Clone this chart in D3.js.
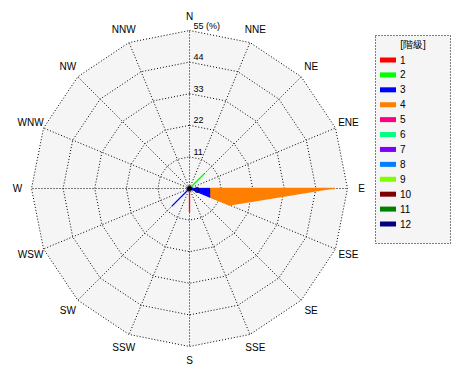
<!DOCTYPE html>
<html>
<head>
<meta charset="utf-8">
<script src="https://cdn.jsdelivr.net/npm/d3@7"></script>
<style>
  body { margin: 0; background: #fff; }
  text { font-family: "Liberation Sans", "DejaVu Sans", sans-serif; }
</style>
</head>
<body>
<svg width="470" height="380"></svg>
<script>
const directions = ["N", "NNE", "NE", "ENE", "E", "ESE", "SE", "SSE",
  "S", "SSW", "SW", "WSW", "W", "WNW", "NW", "NNW"];
const classes = ["1", "2", "3", "4", "5", "6", "7", "8", "9", "10", "11", "12"];
const colors = ["#ff0000", "#00ff00", "#0000ff", "#ff8000", "#ff0080", "#00ff80",
  "#8000ff", "#0080ff", "#80ff00", "#800000", "#008000", "#000080"];
const ticks = [11, 22, 33, 44, 55];

// frequency (%) per class, per direction (N .. NNW)
const class1 = [0, 0, 0, 0, 0, 0, 0, 0, 8.3, 0, 0, 0, 0, 0, 0, 0];
const class2 = [0, 0, 7.3, 0, 0, 0, 0, 0, 0, 0, 0, 0, 0, 0, 0, 0];
const class3 = [0, 0, 0, 0, 7.2, 7.8, 0, 0, 0, 0, 8.8, 0, 0, 0, 0, 0];
const class4 = [0, 0, 0, 0, 43.3, 7.6, 0, 0, 0, 0, 0, 0, 0, 0, 0, 0];
const zeros = directions.map(() => 0);
const series = [class1, class2, class3, class4, zeros, zeros, zeros, zeros,
  zeros, zeros, zeros, zeros];

const cx = 189.5, cy = 188.5, R = 158;
const svg = d3.select("svg");
const g = svg.append("g").attr("transform", `translate(${cx},${cy})`);

const r = d3.scaleLinear().domain([0, 55]).range([0, R]);
const angle = d3.scaleLinear().domain([0, directions.length]).range([0, 2 * Math.PI]);

const ring = v => d3.lineRadial()
  .angle((d, i) => angle(i))
  .radius(() => r(v))
  .curve(d3.curveLinearClosed)(directions);

// background
g.append("path").attr("d", ring(55)).attr("fill", "#f5f5f5");

// rings
ticks.forEach(v => {
  g.append("path").attr("d", ring(v))
    .attr("fill", "none").attr("stroke", "#000")
    .attr("stroke-width", 1).attr("stroke-dasharray", "1,2");
});

// spokes
directions.forEach((d, i) => {
  const a = angle(i);
  g.append("line")
    .attr("x1", 0).attr("y1", 0)
    .attr("x2", Math.sin(a) * r(55)).attr("y2", -Math.cos(a) * r(55))
    .attr("stroke", "#000").attr("stroke-dasharray", "1,2");
});

// stacked radar areas
const cum = [];
series.forEach((s, k) => {
  cum.push(s.map((v, i) => v + (k ? cum[k - 1][i] : 0)));
});
const area = d3.lineRadial()
  .angle((d, i) => angle(i))
  .radius(d => r(d))
  .curve(d3.curveLinearClosed);

for (let k = series.length - 1; k >= 0; k--) {
  if (d3.max(series[k]) === 0) continue;
  g.append("path").attr("d", area(cum[k])).attr("fill", colors[k]);
}
// radial segment of each class along its direction
series.forEach((s, k) => {
  s.forEach((v, i) => {
    if (!v) return;
    const a = angle(i);
    const r0 = k ? r(cum[k - 1][i]) : 0, r1 = r(cum[k][i]);
    g.append("line")
      .attr("x1", Math.sin(a) * r0).attr("y1", -Math.cos(a) * r0)
      .attr("x2", Math.sin(a) * r1).attr("y2", -Math.cos(a) * r1)
      .attr("stroke", colors[k]).attr("stroke-width", 1.3);
  });
});
g.append("circle").attr("r", 2.5).attr("fill", "#000");

// tick labels
ticks.forEach(v => {
  g.append("text")
    .attr("x", 4).attr("y", -r(v) - 2)
    .attr("font-size", 9).attr("fill", "#000")
    .text(v === 55 ? "55 (%)" : v);
});
g.append("text").attr("x", 5).attr("y", 4)
  .attr("font-size", 9).text("0");

// direction labels
directions.forEach((d, i) => {
  const a = angle(i);
  const rr = R + 14;
  g.append("text")
    .attr("x", Math.sin(a) * rr).attr("y", -Math.cos(a) * rr)
    .attr("text-anchor", "middle").attr("dominant-baseline", "central")
    .attr("font-size", 10).text(d);
});

// legend
const lg = svg.append("g").attr("transform", "translate(375,35)");
lg.append("rect").attr("x", 0.5).attr("y", 0.5).attr("width", 75).attr("height", 208)
  .attr("fill", "#f5f5f5").attr("stroke", "#000").attr("stroke-dasharray", "1,2");
lg.append("text").attr("x", 38).attr("y", 13).attr("text-anchor", "middle")
  .attr("font-size", 10).text("[階級]");
const ly = d3.scaleLinear().domain([0, 11]).range([25, 189]);
classes.forEach((c, i) => {
  lg.append("rect").attr("x", 5).attr("y", ly(i) - 2.5).attr("width", 16).attr("height", 5)
    .attr("fill", colors[i]);
  lg.append("text").attr("x", 25).attr("y", ly(i)).attr("dominant-baseline", "central")
    .attr("font-size", 10).text(c);
});
</script>
</body>
</html>
